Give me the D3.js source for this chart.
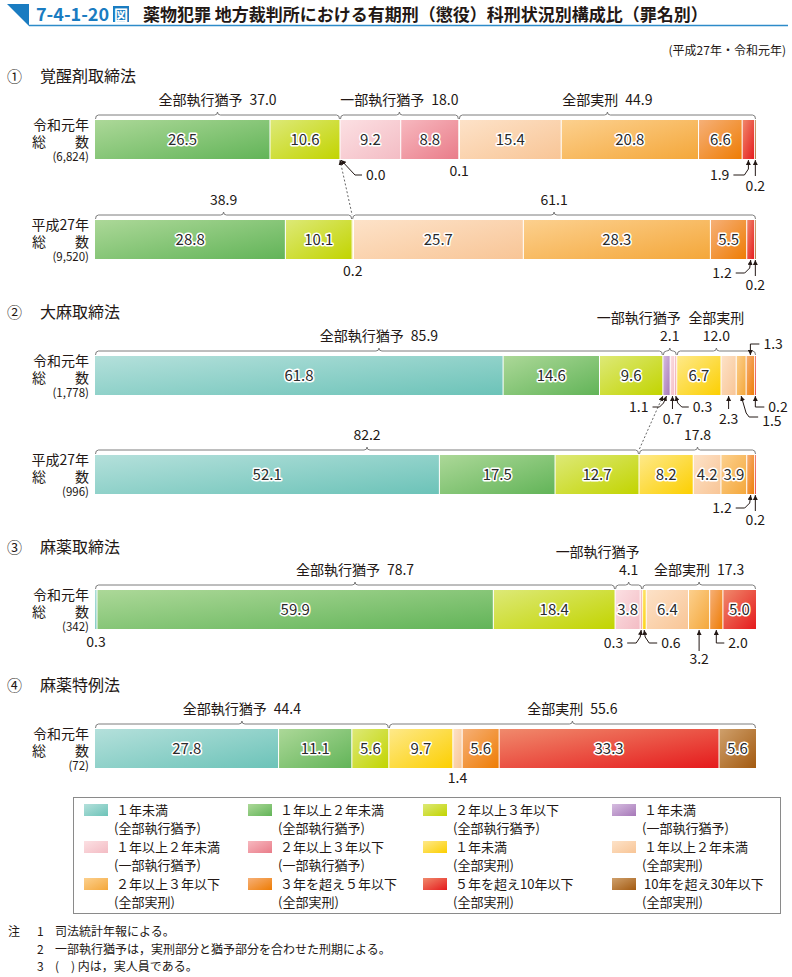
<!DOCTYPE html>
<html>
<head>
<meta charset="utf-8">
<script src="https://cdn.jsdelivr.net/npm/d3@7"></script>
<style>
  body { margin: 0; background: #fff; }
  svg text { font-family: "Noto Sans CJK JP", "Noto Sans", sans-serif; fill: #231815; }
</style>
</head>
<body>
<div id="chart"></div>
<script>
// ---------- data ----------
var sentenceTerms = ["１年未満", "１年以上２年未満", "２年以上３年以下",
  "１年未満", "１年以上２年未満", "２年以上３年以下",
  "１年未満", "１年以上２年未満", "２年以上３年以下",
  "３年を超え５年以下", "５年を超え10年以下", "10年を超え30年以下"];
var sentenceKinds = ["(全部執行猶予)", "(全部執行猶予)", "(全部執行猶予)",
  "(一部執行猶予)", "(一部執行猶予)", "(一部執行猶予)",
  "(全部実刑)", "(全部実刑)", "(全部実刑)", "(全部実刑)", "(全部実刑)", "(全部実刑)"];
var groupNames = ["全部執行猶予", "一部執行猶予", "全部実刑"];
var groupRanges = [[0, 3], [3, 6], [6, 12]];

var lawNames = ["①", "覚醒剤取締法", "②", "大麻取締法", "③", "麻薬取締法", "④", "麻薬特例法"];
var yearNames = ["令和元年", "平成27年"];

// percentages, in legend order
var stimulantsR1 = [0, 26.5, 10.6, 0.0, 9.2, 8.8, 0.1, 15.4, 20.8, 6.6, 1.9, 0.2];
var stimulantsH27 = [0, 28.8, 10.1, 0, 0, 0, 0.2, 25.7, 28.3, 5.5, 1.2, 0.2];
var cannabisR1 = [61.8, 14.6, 9.6, 1.1, 0.7, 0.3, 6.7, 2.3, 1.5, 1.3, 0.2, 0];
var cannabisH27 = [52.1, 17.5, 12.7, 0, 0, 0, 8.2, 4.2, 3.9, 1.2, 0.2, 0];
var narcoticsR1 = [0.3, 59.9, 18.4, 0, 3.8, 0.3, 0.6, 6.4, 3.2, 2.0, 5.0, 0];
var specialActR1 = [27.8, 11.1, 5.6, 0, 0, 0, 9.7, 1.4, 0, 5.6, 33.3, 5.6];

// group totals as printed (null = no bracket)
var stimulantsR1Totals = [37.0, 18.0, 44.9];
var stimulantsH27Totals = [38.9, null, 61.1];
var cannabisR1Totals = [85.9, 2.1, 12.0];
var cannabisH27Totals = [82.2, null, 17.8];
var narcoticsR1Totals = [78.7, 4.1, 17.3];
var specialActR1Totals = [44.4, null, 55.6];

var personCounts = ["6,824", "9,520", "1,778", "996", "342", "72"];

var notes = [["注", "1", "司法統計年報による。"],
  ["", "2", "一部執行猶予は，実刑部分と猶予部分を合わせた刑期による。"],
  ["", "3", "(　) 内は，実人員である。"]];

// ---------- styles / layout ----------
var colorStops = [
  ["#b4e0db", "#6cc3b8"], ["#acd898", "#62b458"], ["#dde977", "#c2d400"], ["#d6bde0", "#a678b8"],
  ["#fce0e3", "#f3bcc4"], ["#f7b8bf", "#e97c89"], ["#fee98a", "#fccf00"], ["#fde2c8", "#f8c596"],
  ["#fcd08e", "#f4a73a"], ["#f6b078", "#ee7c03"], ["#f08a6c", "#e51a1c"], ["#cfa06c", "#a35a10"]
];

var barX0 = 95, barX1 = 756, barH = 39;

var rows = [
  { values: stimulantsR1, totals: stimulantsR1Totals, year: 0, count: 0, top: 120, modes: ["inline", "inline", "inline"] },
  { values: stimulantsH27, totals: stimulantsH27Totals, year: 1, count: 1, top: 220, modes: ["num", null, "num"] },
  { values: cannabisR1, totals: cannabisR1Totals, year: 0, count: 2, top: 356, modes: ["inline", "stackEnd", "stack"] },
  { values: cannabisH27, totals: cannabisH27Totals, year: 1, count: 3, top: 455, modes: ["num", null, "num"] },
  { values: narcoticsR1, totals: narcoticsR1Totals, year: 0, count: 4, top: 590, modes: ["inline", "stackEnd", "inline"] },
  { values: specialActR1, totals: specialActR1Totals, year: 0, count: 5, top: 729, modes: ["inline", null, "inline"] }
];

var sectionTitleY = [82, 318, 553, 691];

// small-value call-outs: seg index, label offset from tip, leader path from tip
var callouts = [
  { row: 0, seg: 3, tx: 26, ty: 21, anchor: "start", pts: [[1, 1], [15, 16], [22, 16]] },
  { row: 0, seg: 6, tx: 0, ty: 17, anchor: "middle" },
  { row: 0, seg: 10, tx: -19, ty: 21, anchor: "end", pts: [[0, 1], [0, 10], [-4, 16], [-15, 16]] },
  { row: 0, seg: 11, tx: 0, ty: 32, anchor: "middle", pts: [[0, 1], [0, 17]] },
  { row: 1, seg: 6, tx: 0, ty: 17, anchor: "middle" },
  { row: 1, seg: 10, tx: -19, ty: 19, anchor: "end", pts: [[0, 1], [-1, 9], [-6, 14], [-15, 14]] },
  { row: 1, seg: 11, tx: 0, ty: 31, anchor: "middle", pts: [[0, 1], [0, 17]] },
  { row: 2, seg: 3, tx: -18, ty: 17, anchor: "end", pts: [[0, 1], [-3, 8], [-7, 12], [-14, 12]] },
  { row: 2, seg: 4, tx: 0, ty: 29, anchor: "middle", pts: [[0, 1], [0, 14]] },
  { row: 2, seg: 5, tx: 17, ty: 17, anchor: "start", pts: [[0, 1], [2, 8], [6, 12], [13, 12]] },
  { row: 2, seg: 7, tx: 0, ty: 29, anchor: "middle", pts: [[0, 1], [0, 14]] },
  { row: 2, seg: 8, tx: 21, ty: 31, anchor: "start", pts: [[0, 1], [5, 18], [8, 22], [17, 22]] },
  { row: 2, seg: 10, tx: 13, ty: 17, anchor: "start", pts: [[0, 1], [0, 12], [9, 12]] },
  { row: 2, seg: 9, above: true, tx: 13, ty: -7, anchor: "start", pts: [[0, -1], [0, -12], [9, -12]] },
  { row: 3, seg: 9, tx: -19, ty: 19, anchor: "end", pts: [[0, 1], [-1, 9], [-6, 14], [-15, 14]] },
  { row: 3, seg: 10, tx: 0, ty: 31, anchor: "middle", pts: [[0, 1], [0, 17]] },
  { row: 4, seg: 0, tx: 0, ty: 18, anchor: "middle" },
  { row: 4, seg: 5, tx: -18, ty: 19, anchor: "end", pts: [[0, 1], [-1, 8], [-5, 14], [-14, 14]] },
  { row: 4, seg: 6, tx: 17, ty: 19, anchor: "start", pts: [[0, 1], [1, 8], [5, 14], [13, 14]] },
  { row: 4, seg: 8, tx: 0, ty: 35, anchor: "middle", pts: [[0, 1], [0, 22]] },
  { row: 4, seg: 9, tx: 12, ty: 19, anchor: "start", pts: [[0, 1], [0, 14], [8, 14]] },
  { row: 5, seg: 7, tx: 0, ty: 15, anchor: "middle" }
];

// dashed links between the 全部執行猶予 ends of two years
var links = [{ from: 0, to: 1 }, { from: 2, to: 3 }];

var fmt = d3.format(".1f");

// ---------- drawing ----------
var svg = d3.select("#chart").append("svg").attr("width", 792).attr("height", 977);
var defs = svg.append("defs");

colorStops.forEach(function (c, i) {
  var g = defs.append("linearGradient").attr("id", "grad" + i)
    .attr("x1", 0).attr("y1", 0).attr("x2", 1).attr("y2", 1);
  g.append("stop").attr("offset", "0%").attr("stop-color", c[0]);
  g.append("stop").attr("offset", "100%").attr("stop-color", c[1]);
});

defs.append("marker").attr("id", "arrow").attr("viewBox", "0 0 10 10")
  .attr("refX", 10).attr("refY", 5).attr("markerWidth", 5).attr("markerHeight", 5)
  .attr("markerUnits", "userSpaceOnUse").attr("orient", "auto-start-reverse")
  .append("path").attr("d", "M0,0L10,5L0,10z").attr("fill", "#231815");

// header
svg.append("path").attr("d", "M7,4L29,4L29,26Z").attr("fill", "#1a7cc1");
svg.append("line").attr("x1", 29).attr("x2", 788).attr("y1", 25.5).attr("y2", 25.5)
  .attr("stroke", "#2d8bc9").attr("stroke-width", 1.5);
svg.append("text").attr("x", 36).attr("y", 21).attr("font-size", 18).attr("font-weight", "bold")
  .style("fill", "#1a7cc1").text("7-4-1-20");
svg.append("rect").attr("x", 113).attr("y", 6).attr("width", 16).attr("height", 16).attr("fill", "#1a7cc1");
svg.append("text").attr("x", 121).attr("y", 19.5).attr("text-anchor", "middle").attr("font-size", 14)
  .attr("font-weight", "bold").style("fill", "#fff").text("図");
svg.append("text").attr("x", 143).attr("y", 21).attr("font-size", 17).attr("font-weight", "bold")
  .text("薬物犯罪 地方裁判所における有期刑（懲役）科刑状況別構成比（罪名別）");
svg.append("text").attr("x", 786).attr("y", 55).attr("text-anchor", "end").attr("font-size", 12)
  .text("(平成27年・令和元年)");

// section titles
sectionTitleY.forEach(function (y, i) {
  svg.append("text").attr("x", 7).attr("y", y).attr("font-size", 15).text(lawNames[i * 2]);
  svg.append("text").attr("x", 40).attr("y", y).attr("font-size", 16).text(lawNames[i * 2 + 1]);
});

function brace(x0, x1, y) {
  var m = (x0 + x1) / 2, r = Math.min(3, (x1 - x0) / 4);
  return "M" + x0 + "," + (y + 4) + "Q" + x0 + "," + y + " " + (x0 + r) + "," + y +
    "L" + (m - 3) + "," + y + "Q" + m + "," + y + " " + m + "," + (y - 3) +
    "Q" + m + "," + y + " " + (m + 3) + "," + y +
    "L" + (x1 - r) + "," + y + "Q" + x1 + "," + y + " " + x1 + "," + (y + 4);
}

rows.forEach(function (row, ri) {
  var total = d3.sum(row.values);
  row.x = d3.scaleLinear().domain([0, total]).range([barX0, barX1]);
  var cum = [0].concat(Array.from(d3.cumsum(row.values)));
  row.cum = cum;
  var g = svg.append("g");

  // row labels
  g.append("text").attr("x", 89).attr("y", row.top + 10).attr("text-anchor", "end")
    .attr("font-size", 14).text(yearNames[row.year]);
  g.append("text").attr("x", 32).attr("y", row.top + 27).attr("font-size", 14).text("総");
  g.append("text").attr("x", 89).attr("y", row.top + 27).attr("text-anchor", "end").attr("font-size", 14).text("数");
  g.append("text").attr("x", 89).attr("y", row.top + 41).attr("text-anchor", "end")
    .attr("font-size", 11.5).text("(" + personCounts[row.count] + ")");

  // segments
  var segs = row.values.map(function (v, i) { return { v: v, i: i, x0: cum[i], x1: cum[i + 1] }; })
    .filter(function (d) { return d.v > 0; });
  g.selectAll("rect.seg").data(segs).enter().append("rect").attr("class", "seg")
    .attr("x", function (d) { return row.x(d.x0); })
    .attr("width", function (d) { return row.x(d.x1) - row.x(d.x0); })
    .attr("y", row.top).attr("height", barH)
    .attr("fill", function (d) { return "url(#grad" + d.i + ")"; });
  g.selectAll("line.sep").data(segs.slice(1)).enter().append("line").attr("class", "sep")
    .attr("x1", function (d) { return row.x(d.x0); }).attr("x2", function (d) { return row.x(d.x0); })
    .attr("y1", row.top).attr("y2", row.top + barH).attr("stroke", "#fff").attr("stroke-width", 1);
  g.selectAll("text.val").data(segs.filter(function (d) { return d.v >= 3.5; })).enter()
    .append("text").attr("class", "val")
    .attr("x", function (d) { return row.x((d.x0 + d.x1) / 2); })
    .attr("y", row.top + barH / 2 + 5.5).attr("text-anchor", "middle").attr("font-size", 15)
    .style("fill", "#2a2a2a").style("stroke", "#fff").style("stroke-width", 3)
    .style("paint-order", "stroke").style("stroke-linejoin", "round")
    .text(function (d) { return fmt(d.v); });

  // brackets
  groupRanges.forEach(function (rg, gi) {
    var mode = row.modes[gi];
    if (!mode || row.totals[gi] == null) return;
    var a = row.x(cum[rg[0]]), b = row.x(cum[rg[1]]), m = (a + b) / 2;
    g.append("path").attr("d", brace(a + 0.5, b - 0.5, row.top - 5)).attr("fill", "none")
      .attr("stroke", "#6d6d6d").attr("stroke-width", 0.9);
    var val = fmt(row.totals[gi]);
    if (mode === "inline") {
      g.append("text").attr("x", m).attr("y", row.top - 15).attr("text-anchor", "middle")
        .attr("font-size", 14).text(groupNames[gi] + "\u2002" + val);
    } else if (mode === "num") {
      g.append("text").attr("x", m).attr("y", row.top - 15).attr("text-anchor", "middle")
        .attr("font-size", 14).text(val);
    } else {
      g.append("text").attr("x", mode === "stackEnd" ? m + 11 : m).attr("y", row.top - 33)
        .attr("text-anchor", mode === "stackEnd" ? "end" : "middle")
        .attr("font-size", 14).text(groupNames[gi]);
      g.append("text").attr("x", m).attr("y", row.top - 15).attr("text-anchor", "middle")
        .attr("font-size", 14).text(val);
    }
  });
});

// dashed links
links.forEach(function (l) {
  var a = rows[l.from], b = rows[l.to];
  var xa = a.x(a.cum[groupRanges[0][1]]), xb = b.x(b.cum[groupRanges[0][1]]);
  svg.append("line").attr("x1", xa).attr("y1", a.top + barH + 1).attr("x2", xb).attr("y2", b.top - 5)
    .attr("stroke", "#555").attr("stroke-width", 0.9).attr("stroke-dasharray", "2,2")
    .attr("marker-start", "url(#arrow)");
});

// call-outs
callouts.forEach(function (c) {
  var row = rows[c.row];
  var tipX = row.x((row.cum[c.seg] + row.cum[c.seg + 1]) / 2);
  var tipY = c.above ? row.top : row.top + barH;
  if (c.pts) {
    svg.append("path")
      .attr("d", d3.line().curve(d3.curveLinear)(c.pts.map(function (p) { return [tipX + p[0], tipY + p[1]]; })))
      .attr("fill", "none").attr("stroke", "#231815").attr("stroke-width", 1)
      .attr("marker-start", "url(#arrow)");
  }
  svg.append("text").attr("x", tipX + c.tx).attr("y", tipY + c.ty).attr("text-anchor", c.anchor)
    .attr("font-size", 14).text(fmt(row.values[c.seg]));
});

// legend
var legend = svg.append("g");
legend.append("rect").attr("x", 73.5).attr("y", 797.5).attr("width", 707).attr("height", 116)
  .attr("fill", "none").attr("stroke", "#8a8a8a").attr("stroke-width", 1);
var legendColX = [84, 248, 423, 612], legendRowY = [804, 841, 878];
sentenceTerms.forEach(function (t, i) {
  var x = legendColX[i % 4], y = legendRowY[Math.floor(i / 4)];
  legend.append("rect").attr("x", x).attr("y", y).attr("width", 24).attr("height", 12)
    .attr("fill", "url(#grad" + i + ")");
  legend.append("text").attr("x", x + 32).attr("y", y + 11).attr("font-size", 13).text(t);
  legend.append("text").attr("x", x + 30).attr("y", y + 29).attr("font-size", 13).text(sentenceKinds[i]);
});

// notes
notes.forEach(function (n, i) {
  var y = 936 + i * 17.5;
  svg.append("text").attr("x", 8).attr("y", y).attr("font-size", 12).text(n[0]);
  svg.append("text").attr("x", 37).attr("y", y).attr("font-size", 12).text(n[1]);
  svg.append("text").attr("x", 55).attr("y", y).attr("font-size", 12).text(n[2]);
});
</script>
</body>
</html>
